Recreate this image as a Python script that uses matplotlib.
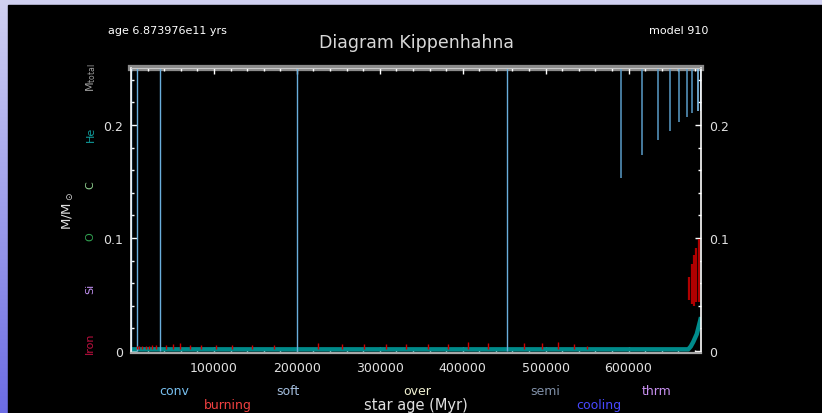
import numpy as np
import matplotlib
matplotlib.use("Agg")
import matplotlib.pyplot as plt
from matplotlib.patches import Rectangle
from matplotlib.ticker import MultipleLocator, FixedLocator

# ---------------- data ----------------
age_max = 687397.6
m_total = 0.25
# full-depth convective events (Myr)
conv_full_x = [600, 6900, 35000, 200000, 453000]
# late convective envelopes: from surface down to bottom mass
conv_env_x = [591300, 616600, 635600, 650000, 660900, 670200, 676900, 684200, 687000]
conv_env_bottom = [0.153, 0.1735, 0.187, 0.195, 0.2027, 0.207, 0.2106, 0.2124, 0.2124]
# small burning marks
burn_x = [6900, 10000, 13300, 18100, 21300, 25000, 29800, 42200, 50300, 59500,
          71200, 84800, 102500, 122200, 146300, 172800, 225900, 254100, 281000,
          307200, 331700, 357800, 382700, 406100, 430900, 474300, 495300, 515300,
          534600, 549600]
burn_top = [0.0047, 0.0047, 0.0047, 0.0047, 0.0047, 0.0056, 0.0056, 0.0056, 0.0065, 0.0068,
            0.0056, 0.0056, 0.0056, 0.0056, 0.0056, 0.0056, 0.0068, 0.0062, 0.0062,
            0.0062, 0.0062, 0.0062, 0.0062, 0.0077, 0.0071, 0.0073, 0.0071, 0.0082,
            0.0059, 0.0042]
burn_base = 0.002
# late burning shells
shell_x = [673500, 676300, 678700, 681900, 684700]
shell_bot = [0.0451, 0.0416, 0.0396, 0.0436, 0.0431]
shell_top = [0.0652, 0.0770, 0.0850, 0.0909, 0.0991]
# He core mass
he_x = [0, 672000, 675000, 678000, 682300, 686300, 687400]
he_m = [0.0015, 0.0015, 0.004, 0.008, 0.015, 0.0265, 0.030]

xtick_major = [100000, 200000, 300000, 400000, 500000, 600000]
xtick_labels = ["100000", "200000", "300000", "400000", "500000", "600000"]
ytick_major = [0, 0.1, 0.2]
ytick_labels = ["0", "0.1", "0.2"]

legend_words = ["conv", "burning", "soft", "over", "semi", "cooling", "thrm"]
legend_colors = ["#78c0f0", "#f04040", "#a4bede", "#f0f0d0", "#8090a8", "#4848ff", "#c890f0"]
element_labels = [r"M$_{\rm total}$", "He", "C", "O", "Si", "Iron"]
element_colors = ["#a0a0a0", "#10a0a0", "#90d090", "#30a050", "#c090f0", "#c01040"]

# ---------------- figure ----------------
W, H = 822, 414
fig = plt.figure(figsize=(W / 100, H / 100), dpi=100)

def fx(px):
    return px / W

def fy(py):
    return 1 - py / H

# background gradient + black panel
bg = fig.add_axes([0, 0, 1, 1], zorder=-10)
top_c = np.array([210, 210, 242]) / 255
bot_c = np.array([108, 108, 228]) / 255
t = np.linspace(0, 1, 256)[:, None, None]
grad = top_c[None, None, :] * (1 - t) + bot_c[None, None, :] * t
grad = np.repeat(grad, 2, axis=1)
bg.imshow(grad, aspect="auto", extent=[0, 1, 0, 1], origin="upper")
bg.add_patch(Rectangle((fx(8), 0), 1 - fx(8), fy(6), color="black", zorder=2))
bg.set_xlim(0, 1)
bg.set_ylim(0, 1)
bg.axis("off")

ax = fig.add_axes([fx(131), fy(353.5), fx(701) - fx(131), fy(69) - fy(353.5)])
ax.set_facecolor("black")
ax.set_xlim(0, age_max)
ax.set_ylim(-0.0013, 0.2504)

# top band (total mass)
ax.axhline(m_total, color="#8a8a8a", lw=4.5, clip_on=False, zorder=1.5)

# He core
ax.plot(he_x, he_m, color="#008b8b", lw=3.2, solid_capstyle="butt", zorder=2)

# burning marks
ax.vlines(burn_x, burn_base, burn_top, color="#d00000", lw=1.0, zorder=2.2)
ax.vlines(shell_x, shell_bot, shell_top, color="#b00000", lw=1.6, zorder=2.2)

# convection
ax.vlines(conv_full_x, 0, m_total, color="#6aaedc", lw=1.0, zorder=2.1)
env_cols = ["#5a9cc8"] * 7 + ["#8cd0ff", "#8cd0ff"]
ax.vlines(conv_env_x, conv_env_bottom, m_total, colors=env_cols, lw=1.1, zorder=2.1)

# axes styling
for s in ["left", "right"]:
    ax.spines[s].set_color("white")
    ax.spines[s].set_linewidth(1.2)
ax.spines["bottom"].set_color("#a8a8a8")
ax.spines["bottom"].set_linewidth(1.6)
ax.spines["top"].set_color("#c8c8c8")
ax.spines["top"].set_linewidth(0.8)

ax.xaxis.set_major_locator(FixedLocator(xtick_major))
ax.set_xticklabels(xtick_labels)
ax.xaxis.set_minor_locator(MultipleLocator(20000))
ax.yaxis.set_major_locator(FixedLocator(ytick_major))
ax.set_yticklabels(ytick_labels)
ax.yaxis.set_minor_locator(MultipleLocator(0.02))

ax.tick_params(which="both", direction="in", colors="white", top=True, right=True,
               labelright=True, labelsize=9, labelcolor="#e0e0e0")
ax.tick_params(axis="x", which="major", length=4.5, width=1, pad=6)
ax.tick_params(axis="x", which="minor", length=2.5, width=1)
ax.tick_params(axis="y", which="major", length=4, width=1, pad=6)
ax.tick_params(axis="y", which="minor", length=2.2, width=1)

# texts
fig.text(fx(108), fy(31), "age 6.873976e11 yrs", color="white", fontsize=8,
         ha="left", va="center")
fig.text(fx(708), fy(31), "model 910", color="white", fontsize=8,
         ha="right", va="center")
fig.text(fx(416), fy(43), "Diagram Kippenhahna", color="#d8d8d8", fontsize=12.5,
         ha="center", va="center")

leg_pos = [(174.5, 392), (227.7, 406), (287.5, 392), (417, 392), (545, 392),
           (599, 406), (657, 392)]
for w, c, (px, py) in zip(legend_words, legend_colors, leg_pos):
    fig.text(fx(px), fy(py), w, color=c, fontsize=9, ha="center", va="center")

fig.text(fx(416), fy(410), "star age (Myr)", color="#e0e0e0", fontsize=10.5,
         ha="center", va="baseline")

elem_pos = [(91, 78), (91, 134), (90, 185), (90, 237), (90, 289), (90, 343)]
for lab, c, (px, py) in zip(element_labels, element_colors, elem_pos):
    fig.text(fx(px), fy(py), lab, color=c, fontsize=8, rotation=90,
             ha="center", va="center")
fig.text(fx(68), fy(211), r"M/M$_\odot$", color="#e0e0e0", fontsize=9.5,
         rotation=90, ha="center", va="center")

fig.savefig("out.png", dpi=100, facecolor=fig.get_facecolor())
